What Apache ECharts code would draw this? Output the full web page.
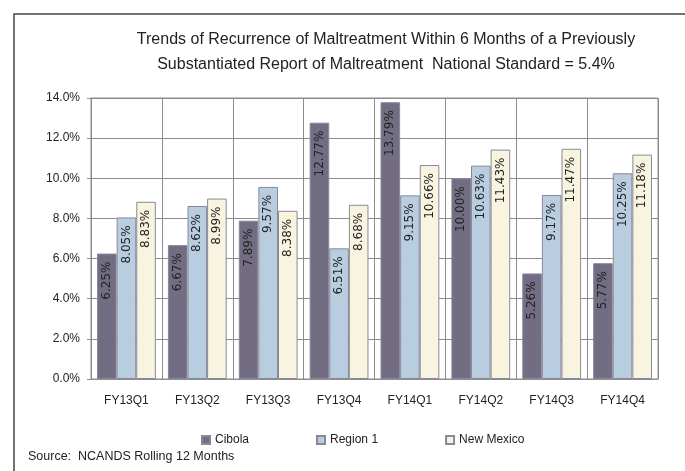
<!DOCTYPE html>
<html>
<head>
<meta charset="utf-8">
<script src="https://cdn.jsdelivr.net/npm/echarts@6/dist/echarts.min.js"></script>
<style>
  html, body { margin: 0; padding: 0; background: #fff; }
  #chart { width: 685px; height: 471px; }
</style>
</head>
<body>
<div id="chart"></div>
<script>
  var quarters = ['FY13Q1', 'FY13Q2', 'FY13Q3', 'FY13Q4', 'FY14Q1', 'FY14Q2', 'FY14Q3', 'FY14Q4'];
  var cibola = [6.25, 6.67, 7.89, 12.77, 13.79, 10.00, 5.26, 5.77];
  var region1 = [8.05, 8.62, 9.57, 6.51, 9.15, 10.63, 9.17, 10.25];
  var newMexico = [8.83, 8.99, 8.38, 8.68, 10.66, 11.43, 11.47, 11.18];

  var font = 'Liberation Sans, Arial, sans-serif';
  var chart = echarts.init(document.getElementById('chart'));

  // label rotated, reading bottom-to-top, near top of bar
  function barLabel() {
    return {
      show: true,
      position: 'insideTop',
      distance: 8,
      rotate: 90,
      align: 'right',
      verticalAlign: 'middle',
      color: '#222',
      fontFamily: 'DejaVu Sans, sans-serif',
      fontSize: 12,
      formatter: function (p) { return p.value.toFixed(2) + '%'; }
    };
  }

  function makeSeries(name, data, color) {
    return {
      name: name,
      type: 'bar',
      data: data,
      barGap: 0,
      barCategoryGap: '17%',
      itemStyle: { color: color, borderColor: '#8a8898', borderWidth: 1 },
      label: barLabel()
    };
  }

  chart.setOption({
    animation: false,
    title: {
      text: 'Trends of Recurrence of Maltreatment Within 6 Months of a Previously\nSubstantiated Report of Maltreatment  National Standard = 5.4%',
      left: 381,
      top: 22,
      textAlign: 'center',
      textStyle: { fontFamily: font, fontSize: 16, fontWeight: 'normal', color: '#222', lineHeight: 25 }
    },
    graphic: [
      { type: 'rect', shape: { x: 14, y: 14, width: 700, height: 500 }, style: { fill: 'none', stroke: '#444', lineWidth: 1.5 } },
      { type: 'text', left: 28, top: 450, style: { text: 'Source:  NCANDS Rolling 12 Months', fontFamily: font, fontSize: 12.5, fill: '#222' } }
    ],
    legend: {
      data: ['Cibola', 'Region 1', 'New Mexico'],
      left: 196,
      top: 429,
      itemWidth: 8,
      itemHeight: 8,
      itemGap: 67,
      icon: 'rect',
      textStyle: { fontFamily: font, fontSize: 12, color: '#222' }
    },
    grid: { left: 91, right: 27, top: 98, bottom: 92, show: true, borderColor: '#8c8c8c', borderWidth: 1 },
    xAxis: {
      type: 'category',
      data: quarters,
      axisLine: { lineStyle: { color: '#8c8c8c' } },
      axisTick: { show: false },
      splitLine: { show: true, interval: 0, lineStyle: { color: '#8c8c8c' } },
      axisLabel: { fontFamily: font, fontSize: 12, color: '#222', margin: 16 }
    },
    yAxis: {
      type: 'value',
      min: 0,
      max: 14,
      interval: 2,
      axisLine: { show: true, lineStyle: { color: '#8c8c8c' } },
      axisTick: { show: true, length: 4, lineStyle: { color: '#8c8c8c' } },
      splitLine: { lineStyle: { color: '#8c8c8c' } },
      axisLabel: {
        fontFamily: font, fontSize: 12, color: '#222', margin: 11,
        formatter: function (v) { return v.toFixed(1) + '%'; }
      }
    },
    series: [
      makeSeries('Cibola', cibola, '#726d83'),
      makeSeries('Region 1', region1, '#b9cde0'),
      makeSeries('New Mexico', newMexico, '#f8f4e0')
    ]
  });
</script>
</body>
</html>
